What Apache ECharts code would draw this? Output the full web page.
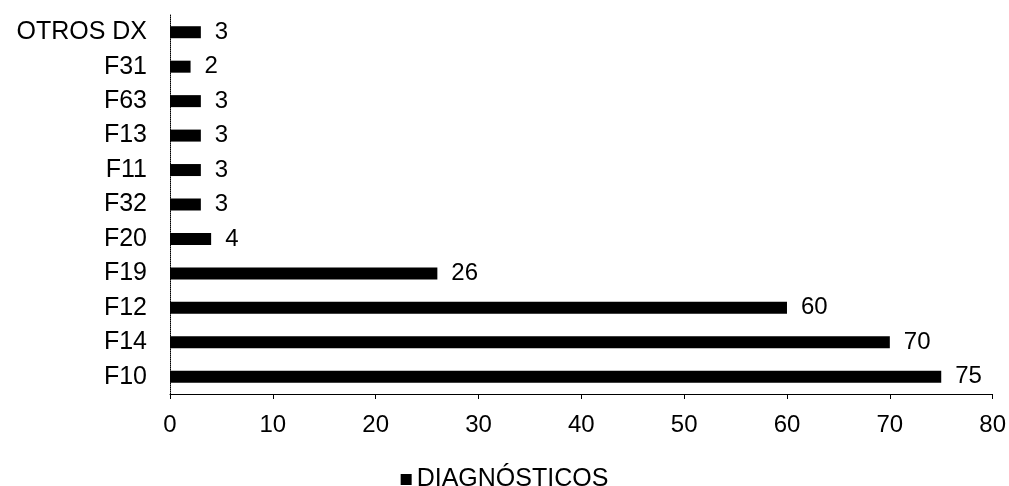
<!DOCTYPE html>
<html>
<head>
<meta charset="utf-8">
<script src="https://cdn.jsdelivr.net/npm/echarts@6/dist/echarts.min.js"></script>
<style>html,body{margin:0;padding:0;background:#fff}#c{width:1009px;height:486px}</style>
</head>
<body>
<div id="c"></div>
<script>
var categories = ['F10','F14','F12','F19','F20','F32','F11','F13','F63','F31','OTROS DX'];
var values = [75,70,60,26,4,3,3,3,3,2,3];
var seriesName = 'DIAGNÓSTICOS';
var xTicks = [0,10,20,30,40,50,60,70,80];

var chart = echarts.init(document.getElementById('c'));
var font = 'Liberation Sans, Arial, sans-serif';
chart.setOption({
  animation: false,
  backgroundColor: '#fff',
  grid: {left: 170, right: 15, top: 15, bottom: 92, containLabel: false},
  legend: {
    top: 462, left: 'center',
    itemWidth: 11, itemHeight: 11, itemGap: 4,
    icon: 'rect',
    data: [seriesName],
    textStyle: {fontFamily: font, fontSize: 25, color: '#000'}
  },
  xAxis: {
    type: 'value', min: xTicks[0], max: xTicks[xTicks.length-1], interval: 10,
    axisLine: {show: true, lineStyle: {color: '#000', width: 1}},
    axisTick: {show: true, length: 5, lineStyle: {color: '#000'}},
    splitLine: {show: false},
    axisLabel: {fontFamily: font, fontSize: 24, color: '#000', margin: 19}
  },
  yAxis: {
    type: 'category', data: categories,
    axisLine: {show: true, lineStyle: {color: '#000', width: 1, type: 'dotted'}},
    axisTick: {show: false},
    axisLabel: {fontFamily: font, fontSize: 25, color: '#000', margin: 23}
  },
  series: [{
    name: seriesName, type: 'bar', data: values, barWidth: 12,
    itemStyle: {color: '#000'},
    label: {show: true, position: 'right', distance: 14, fontFamily: font, fontSize: 24, color: '#000'}
  }]
});
</script>
</body>
</html>
